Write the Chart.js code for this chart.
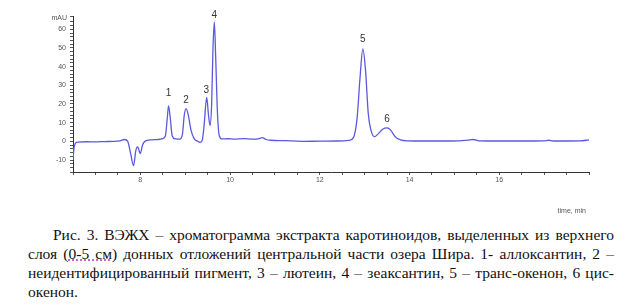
<!DOCTYPE html>
<html>
<head>
<meta charset="utf-8">
<script src="https://cdn.jsdelivr.net/npm/chart.js@4.4.0/dist/chart.umd.min.js"></script>
<style>
  html, body { margin: 0; padding: 0; background: #fff; }
  #wrap { position: relative; width: 641px; height: 307px; overflow: hidden; }
  #plot { position: absolute; left: 0; top: 0; }
  .cap { position: absolute; left: 28px; top: 225px; width: 586px;
         font-family: "Times New Roman", "Liberation Serif", "DejaVu Serif", serif; font-size: 15.5px;
         line-height: 19px; color: #111; }
  .cap div { text-align: justify; text-align-last: justify; white-space: nowrap; }
  .cap div.last { text-align-last: left; }
  .sp { text-decoration: underline dotted #b040b0; }
</style>
</head>
<body>
<div id="wrap">
  <canvas id="plot" width="641" height="222"></canvas>
  <div class="cap">
    <div style="text-indent:25px">Рис. 3. ВЭЖХ – хроматограмма экстракта каротиноидов, выделенных из верхнего</div>
    <div>слоя (<span class="sp">0-5 см</span>) донных отложений центральной части озера Шира. 1- аллоксантин, 2 –</div>
    <div>неидентифицированный пигмент, 3 – лютеин, 4 – зеаксантин, 5 – транс-окенон, 6 цис-</div>
    <div class="last">окенон.</div>
  </div>
</div>
<script>
// retention time, min
const times = [
  6.50, 6.52, 6.55, 6.60, 6.80, 7.00, 7.20, 7.40, 7.55, 7.65, 7.72, 7.78, 7.85, 7.90, 7.94,
  8.00, 8.05, 8.10, 8.25, 8.40, 8.50, 8.56, 8.60, 8.63, 8.67, 8.71, 8.78, 8.88, 8.94, 8.98,
  9.02, 9.07, 9.13, 9.20, 9.28, 9.34, 9.38, 9.42, 9.48, 9.52, 9.555, 9.59, 9.62, 9.65, 9.68,
  9.72, 9.76, 9.82, 9.95, 10.10, 10.30, 10.50, 10.65, 10.72, 10.80, 10.90, 11.20, 11.60, 12.00,
  12.40, 12.65, 12.75, 12.83, 12.90, 12.96, 13.02, 13.08, 13.14, 13.22, 13.30, 13.40, 13.50,
  13.58, 13.68, 13.80, 13.95, 14.30, 14.70, 15.10, 15.30, 15.42, 15.55, 16.00, 16.50, 17.00,
  17.10, 17.20, 17.80, 18.00
];
// detector signal, mAU
const signal = [
  -10, -4, -1.2, -0.4, -0.2, -0.3, -0.1, 0, 0.3, 1.0, 0, -6, -13, -5, -3,
  -6.5, -2, 0, 0.8, 1, 1.5, 3, 12, 19, 12, 3, 1.3, 1.2, 4, 14,
  17.5, 14, 6, 1.5, 0, -0.5, 0.5, 8, 23.5, 14, 8.5, 20, 50, 64, 45,
  15, 3, 1.3, 1.4, 1.2, 1.5, 1.2, 1.5, 2.0, 1.0, 0.6, 0.4, 0, 0.1,
  0.2, 0.5, 2, 12, 35, 49.5, 38, 15, 6, 2.5, 4, 6.5, 7.2,
  6, 2.5, 0.8, 0.3, 0.2, 0.2, 0.3, 0.7, 1.0, 0.3, 0.2, 0.2, 0.3,
  0.6, 0.2, 0.3, 0.8
];

// peak numbers and where they sit
const peakNames = ['1', '2', '3', '4', '5', '6'];
const peakTimes = [8.63, 9.02, 9.47, 9.65, 12.96, 13.50];
const peakLabelY = [25.5, 22, 27.5, 67.5, 54.5, 12];

const xTickLabels = [8, 10, 12, 14, 16];
const yTickLabels = [-10, 0, 10, 20, 30, 40, 50, 60];

const tickFont = { family: 'Arial, "Liberation Sans", sans-serif', size: 7 };

const peakLabelPlugin = {
  id: 'peakLabels',
  afterDatasetsDraw(chart) {
    const { ctx, scales } = chart;
    ctx.save();
    ctx.font = '10px Arial, "Liberation Sans", sans-serif';
    ctx.fillStyle = '#333';
    ctx.textAlign = 'center';
    ctx.textBaseline = 'middle';
    peakNames.forEach((name, i) => {
      ctx.fillText(name, scales.x.getPixelForValue(peakTimes[i]), scales.y.getPixelForValue(peakLabelY[i]));
    });
    // axis captions
    ctx.font = '7px Arial, "Liberation Sans", sans-serif';
    ctx.fillStyle = '#555';
    ctx.textAlign = 'right';
    ctx.fillText('mAU', chart.chartArea.left - 6, chart.chartArea.top + 2);
    ctx.fillText('time, min', chart.chartArea.right - 3, 211);
    ctx.restore();
  }
};

const plotCtx = document.getElementById('plot').getContext('2d');
new Chart(plotCtx, {
  type: 'line',
  data: {
    datasets: [{
      data: times.map((t, i) => ({ x: t, y: signal[i] })),
      borderColor: '#5a5ade',
      borderWidth: 1.3,
      pointRadius: 0,
      cubicInterpolationMode: 'monotone',
      fill: false
    }]
  },
  options: {
    responsive: false,
    animation: false,
    layout: { padding: { left: 0, right: 52, top: 16, bottom: 22 } },
    plugins: { legend: { display: false }, tooltip: { enabled: false } },
    scales: {
      x: {
        type: 'linear', min: 6.5, max: 18,
        border: { color: '#333', width: 1 },
        grid: { drawOnChartArea: false, drawTicks: true, tickLength: 3, color: '#555' },
        ticks: {
          stepSize: 0.5, autoSkip: false, maxRotation: 0, padding: 1,
          color: '#555', font: tickFont,
          callback: v => xTickLabels.includes(v) ? String(v) : ''
        },
        afterFit: s => { s.height = 28; }
      },
      y: {
        type: 'linear', min: -16.4, max: 67.1,
        border: { color: '#333', width: 1 },
        grid: { drawOnChartArea: false, drawTicks: true, tickLength: 3, color: '#555' },
        ticks: {
          stepSize: 2, autoSkip: false, padding: 4,
          color: '#555', font: tickFont,
          callback: v => yTickLabels.includes(v) ? String(v) : ''
        },
        afterFit: s => { s.width = 73; }
      }
    }
  },
  plugins: [peakLabelPlugin]
});
</script>
</body>
</html>
